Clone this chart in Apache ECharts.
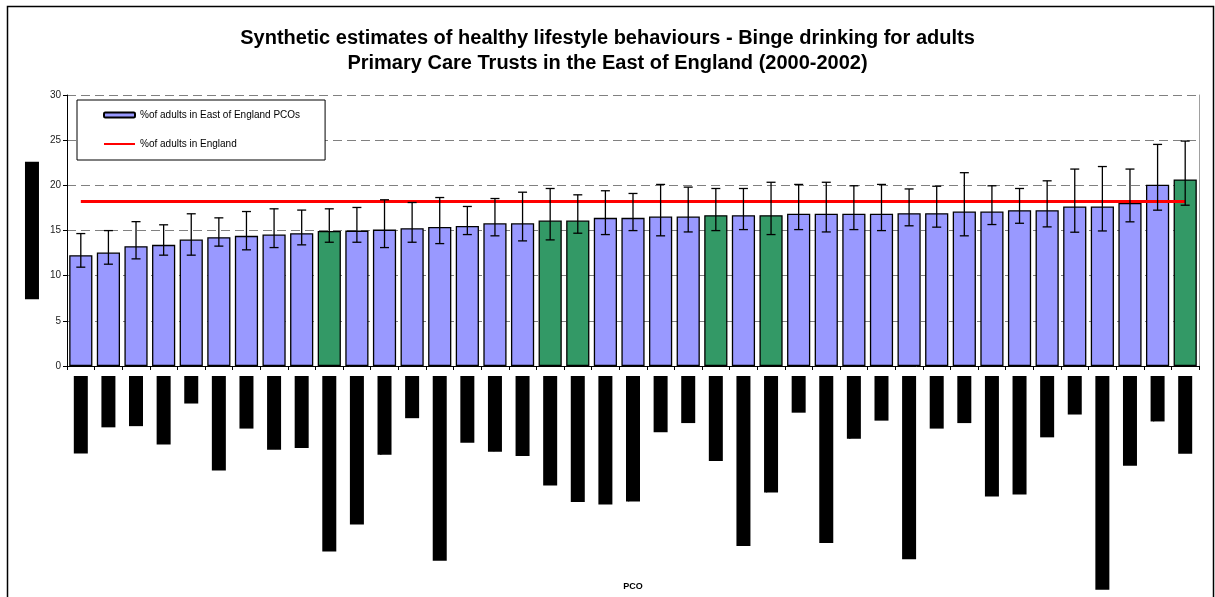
<!DOCTYPE html>
<html>
<head>
<meta charset="utf-8">
<script src="https://cdn.jsdelivr.net/npm/echarts@6/dist/echarts.min.js"></script>
<style>
  html, body { margin: 0; padding: 0; background: #fff; }
  #chart { width: 1215px; height: 597px; }
</style>
</head>
<body>
<div id="chart"></div>
<script>
// ---- Data ----
const categories = [
  "Great Yarmouth", "Hertsmere", "Broadland", "Epping Forest", "Luton",
  "South West Norfolk", "Colchester", "Suffolk Coastal", "Central Suffolk",
  "Bedfordshire and Hertfordshire area", "Maldon and South Chelmsford",
  "Welwyn Hatfield", "Tendring", "North Hertfordshire & Stevenage PCT",
  "Peterborough", "Cambridge City", "Huntingdonshire", "South Cambridgeshire",
  "St Albans and Harpenden", "Castle Point and Rochford", "Watford and Three Rivers",
  "Chelmsford", "Uttlesford", "Southend on Sea", "Witham, Braintree & Halstead PCT",
  "West Hertfordshire PCT", "Ipswich", "East Cambridgeshire and Fenland", "West Norfolk",
  "Braintree", "Billericay, Brentwood & Wickford PCT", "Stevenage", "Lowestoft",
  "South East Hertfordshire", "Bedfordshire Heartlands", "Suffolk West", "Bedford",
  "Royston, Buntingford and Bishop's Stortford", "North Norfolk PCT", "Waveney",
  "East of England"
];
const pcoValues = [12.27, 12.56, 13.27, 13.41, 14.0, 14.26, 14.41, 14.55, 14.7, 14.95,
  14.99, 15.1, 15.26, 15.4, 15.5, 15.8, 15.8, 16.1, 16.1, 16.4,
  16.4, 16.55, 16.55, 16.7, 16.7, 16.7, 16.85, 16.85, 16.85, 16.85,
  16.92, 16.92, 17.1, 17.1, 17.25, 17.25, 17.66, 17.66, 18.06, 20.06, 20.65];
const lowerCI = [10.94, 11.27, 11.86, 12.27, 12.27, 13.27, 12.86, 13.11, 13.41, 13.7,
  13.7, 13.11, 13.7, 13.55, 14.55, 14.41, 13.85, 13.96, 14.7, 14.55,
  14.99, 14.41, 14.84, 14.99, 15.1, 14.55, 15.1, 14.84, 15.1, 14.99,
  15.52, 15.37, 14.41, 15.66, 15.8, 15.4, 14.81, 14.95, 15.96, 17.25, 17.8];
const upperCI = [14.66, 14.99, 15.98, 15.63, 16.85, 16.4, 17.1, 17.4, 17.26, 17.4,
  17.55, 18.4, 18.1, 18.65, 17.66, 18.54, 19.24, 19.65, 18.95, 19.4,
  19.1, 20.1, 19.8, 19.65, 19.65, 20.34, 20.1, 20.34, 19.95, 20.1,
  19.6, 19.9, 21.4, 19.95, 19.65, 20.5, 21.8, 22.08, 21.8, 24.53, 24.9];
const highlighted = [9, 17, 18, 23, 25, 40];
const englandValue = 18.2;
const yTicks = { min: 0, max: 30, interval: 5 };

const seriesBarName = "%of adults in East of England PCOs";
const seriesLineName = "%of adults in England";

// ---- Chart ----
const FONT = "'Liberation Sans', Arial, sans-serif";
const chart = echarts.init(document.getElementById('chart'), null, { renderer: 'canvas' });

const barData = pcoValues.map((v, i) => highlighted.includes(i)
  ? { value: v, itemStyle: { color: '#339966' } }
  : v);
const errData = pcoValues.map((v, i) => [i, lowerCI[i], upperCI[i]]);
const lineData = categories.map(() => englandValue);

chart.setOption({
  animation: false,
  backgroundColor: '#fff',
  textStyle: { fontFamily: FONT },
  title: {
    text: 'Synthetic estimates of healthy lifestyle behaviours - Binge drinking for adults\nPrimary Care Trusts in the East of England (2000-2002)',
    left: 'center',
    top: 26,
    padding: 0,
    textStyle: { fontFamily: FONT, fontSize: 20, fontWeight: 'bold', color: '#000', lineHeight: 25 }
  },
  legend: {
    data: [
      { name: seriesBarName },
      { name: seriesLineName, itemStyle: { color: 'rgba(0,0,0,0)', borderWidth: 0, opacity: 0 } }
    ],
    orient: 'vertical',
    left: 77,
    top: 100,
    backgroundColor: '#fff',
    borderColor: '#000',
    borderWidth: 1,
    padding: [10, 25, 11, 26],
    itemWidth: 31,
    itemHeight: 5,
    itemGap: 19,
    selectedMode: false,
    textStyle: { fontFamily: FONT, fontSize: 10, color: '#000', padding: [0, 0, 0, 0] }
  },
  grid: { left: 67, right: 16, top: 95, bottom: 231, containLabel: false, outerBoundsMode: 'none' },
  xAxis: {
    type: 'category',
    data: categories,
    boundaryGap: true,
    name: 'PCO',
    nameLocation: 'middle',
    nameGap: 216,
    nameMoveOverlap: false,
    nameTextStyle: { fontFamily: FONT, fontSize: 9, fontWeight: 'bold', color: '#000' },
    axisLine: { lineStyle: { color: '#000', width: 1 } },
    axisTick: { show: true, length: 4, interval: 0, lineStyle: { color: '#000' } },
    axisLabel: {
      interval: 0,
      rotate: 90,
      margin: 10,
      fontFamily: FONT,
      fontSize: 11,
      lineHeight: 14,
      color: '#000',
      backgroundColor: '#000',
      hideOverlap: false
    },
    splitLine: { show: false }
  },
  yAxis: [{
    type: 'value',
    min: yTicks.min,
    max: yTicks.max,
    interval: yTicks.interval,
    name: '% of adults binge drinking',
    nameLocation: 'middle',
    nameRotate: 90,
    nameGap: 27,
    nameTextStyle: { fontFamily: FONT, fontSize: 12, lineHeight: 14, color: '#000', backgroundColor: '#000' },
    axisLine: { show: true, lineStyle: { color: '#000', width: 1 } },
    axisTick: { show: true, length: 4, lineStyle: { color: '#000' } },
    axisLabel: { fontFamily: FONT, fontSize: 10, color: '#222', margin: 6 },
    splitLine: { show: true, lineStyle: { color: '#808080', width: 1, type: [9, 5] } }
  }, {
    type: 'value',
    position: 'right',
    min: yTicks.min,
    max: yTicks.max,
    interval: yTicks.interval,
    axisLine: { show: true, lineStyle: { color: '#a0a0a0', width: 1 } },
    axisTick: { show: false },
    axisLabel: { show: false },
    splitLine: { show: false }
  }],
  graphic: [{
    type: 'rect',
    shape: { x: 7.5, y: 6.5, width: 1206, height: 620 },
    style: { fill: 'none', stroke: '#000', lineWidth: 1.5 },
    silent: true,
    z: 100
  }],
  series: [{
    name: seriesBarName,
    type: 'bar',
    data: barData,
    barCategoryGap: '16%',
    itemStyle: { color: '#9999FF', borderColor: '#000', borderWidth: 1.3 },
    z: 2
  }, {
    name: seriesLineName,
    type: 'line',
    data: lineData,
    symbol: 'none',
    lineStyle: { color: '#FF0000', width: 3 },
    itemStyle: { color: '#FF0000' },
    z: 3
  }, {
    name: 'CI',
    type: 'custom',
    data: errData,
    z: 4,
    renderItem: function (params, api) {
      const x = api.value(0);
      const lo = api.coord([x, api.value(1)]);
      const hi = api.coord([x, api.value(2)]);
      const half = 4.5;
      const style = { stroke: '#000', lineWidth: 1.3 };
      return {
        type: 'group',
        children: [
          { type: 'line', shape: { x1: lo[0], y1: lo[1], x2: hi[0], y2: hi[1] }, style },
          { type: 'line', shape: { x1: lo[0] - half, y1: lo[1], x2: lo[0] + half, y2: lo[1] }, style },
          { type: 'line', shape: { x1: hi[0] - half, y1: hi[1], x2: hi[0] + half, y2: hi[1] }, style }
        ]
      };
    }
  }]
});
</script>
</body>
</html>
